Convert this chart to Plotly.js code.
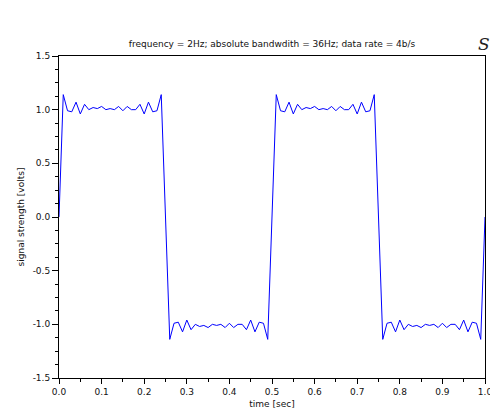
<!DOCTYPE html>
<html>
<head>
<meta charset="utf-8">
<script src="https://cdn.plot.ly/plotly-3.0.1.min.js"></script>
<style>html,body{margin:0;padding:0;background:#fff;}#chart{width:490px;height:412px;}</style>
</head>
<body>
<div id="chart"></div>
<script>
// time samples [sec]
const time = [
  0.00,0.01,0.02,0.03,0.04,0.05,0.06,0.07,0.08,0.09,
  0.10,0.11,0.12,0.13,0.14,0.15,0.16,0.17,0.18,0.19,
  0.20,0.21,0.22,0.23,0.24,0.25,0.26,0.27,0.28,0.29,
  0.30,0.31,0.32,0.33,0.34,0.35,0.36,0.37,0.38,0.39,
  0.40,0.41,0.42,0.43,0.44,0.45,0.46,0.47,0.48,0.49,
  0.50,0.51,0.52,0.53,0.54,0.55,0.56,0.57,0.58,0.59,
  0.60,0.61,0.62,0.63,0.64,0.65,0.66,0.67,0.68,0.69,
  0.70,0.71,0.72,0.73,0.74,0.75,0.76,0.77,0.78,0.79,
  0.80,0.81,0.82,0.83,0.84,0.85,0.86,0.87,0.88,0.89,
  0.90,0.91,0.92,0.93,0.94,0.95,0.96,0.97,0.98,0.99,
  1.00
];
// signal strength [volts]
const volts = [
  0, 1.14, 0.99, 0.98, 1.07, 0.96, 1.05, 1.00, 1.02, 1.01,
  1.03, 1.00, 1.01, 1.00, 1.03, 0.99, 1.03, 1.00, 1.00, 1.05,
  0.96, 1.07, 0.98, 0.99, 1.14,
  0, -1.14, -0.99, -0.98, -1.07, -0.96, -1.05, -1.00, -1.02, -1.01,
  -1.03, -1.00, -1.01, -1.00, -1.03, -0.99, -1.03, -1.00, -1.00, -1.05,
  -0.96, -1.07, -0.98, -0.99, -1.14,
  0, 1.14, 0.99, 0.98, 1.07, 0.96, 1.05, 1.00, 1.02, 1.01,
  1.03, 1.00, 1.01, 1.00, 1.03, 0.99, 1.03, 1.00, 1.00, 1.05,
  0.96, 1.07, 0.98, 0.99, 1.14,
  0, -1.14, -0.99, -0.98, -1.07, -0.96, -1.05, -1.00, -1.02, -1.01,
  -1.03, -1.00, -1.01, -1.00, -1.03, -0.99, -1.03, -1.00, -1.00, -1.05,
  -0.96, -1.07, -0.98, -0.99, -1.14,
  0
];
const xTickVals = [0,0.1,0.2,0.3,0.4,0.5,0.6,0.7,0.8,0.9,1.0];
const xTickText = ['0.0','0.1','0.2','0.3','0.4','0.5','0.6','0.7','0.8','0.9','1.0'];
const yTickVals = [-1.5,-1.0,-0.5,0,0.5,1.0,1.5];
const yTickText = ['-1.5','-1.0','-0.5','0.0','0.5','1.0','1.5'];
const titleText = 'frequency = 2Hz; absolute bandwdith = 36Hz; data rate = 4b/s';
const xTitle = 'time [sec]';
const yTitle = 'signal strength [volts]';

const font = {family: 'DejaVu Sans, sans-serif', size: 9, color: '#111'};

Plotly.newPlot('chart', [{
  x: time, y: volts, type: 'scatter', mode: 'lines',
  line: {color: '#0000ff', width: 1},
  hoverinfo: 'skip'
}], {
  width: 490, height: 412,
  margin: {l: 59, r: 5, t: 56, b: 34, pad: 0},
  paper_bgcolor: '#ffffff', plot_bgcolor: '#ffffff',
  showlegend: false,
  font: font,
  title: {text: titleText, font: font, x: 0.5, xref: 'paper', xanchor: 'center',
          y: 1 - 44/412, yref: 'container', yanchor: 'middle'},
  xaxis: {
    range: [0, 1], tickmode: 'array', tickvals: xTickVals, ticktext: xTickText,
    ticks: 'outside', ticklen: 5, tickwidth: 1, tickcolor: '#000',
    ticklabeloverflow: 'allow',
    minor: {tickmode: 'linear', tick0: 0, dtick: 0.05, ticks: 'outside', ticklen: 3, tickcolor: '#000', showgrid: false},
    showline: true, linecolor: '#000', linewidth: 1, mirror: true,
    showgrid: false, zeroline: false, tickfont: font,
    title: {text: xTitle, font: font, standoff: 4}
  },
  yaxis: {
    range: [-1.5, 1.5], tickmode: 'array', tickvals: yTickVals, ticktext: yTickText,
    ticks: 'outside', ticklen: 6, tickwidth: 1, tickcolor: '#000',
    ticklabeloverflow: 'allow',
    minor: {tickmode: 'linear', tick0: 0, dtick: 0.125, ticks: 'outside', ticklen: 3, tickcolor: '#000', showgrid: false},
    showline: true, linecolor: '#000', linewidth: 1, mirror: true,
    showgrid: false, zeroline: false, tickfont: font,
    title: {text: yTitle, font: font, standoff: 6}
  },
  annotations: [{
    text: 'S', xref: 'paper', yref: 'paper', x: (484-59)/426, y: (378-44)/322,
    xanchor: 'center', yanchor: 'middle', showarrow: false,
    font: {family: 'DejaVu Serif, serif', size: 17, color: '#222', style: 'italic'}
  }]
}, {staticPlot: true, displayModeBar: false});
</script>
</body>
</html>
